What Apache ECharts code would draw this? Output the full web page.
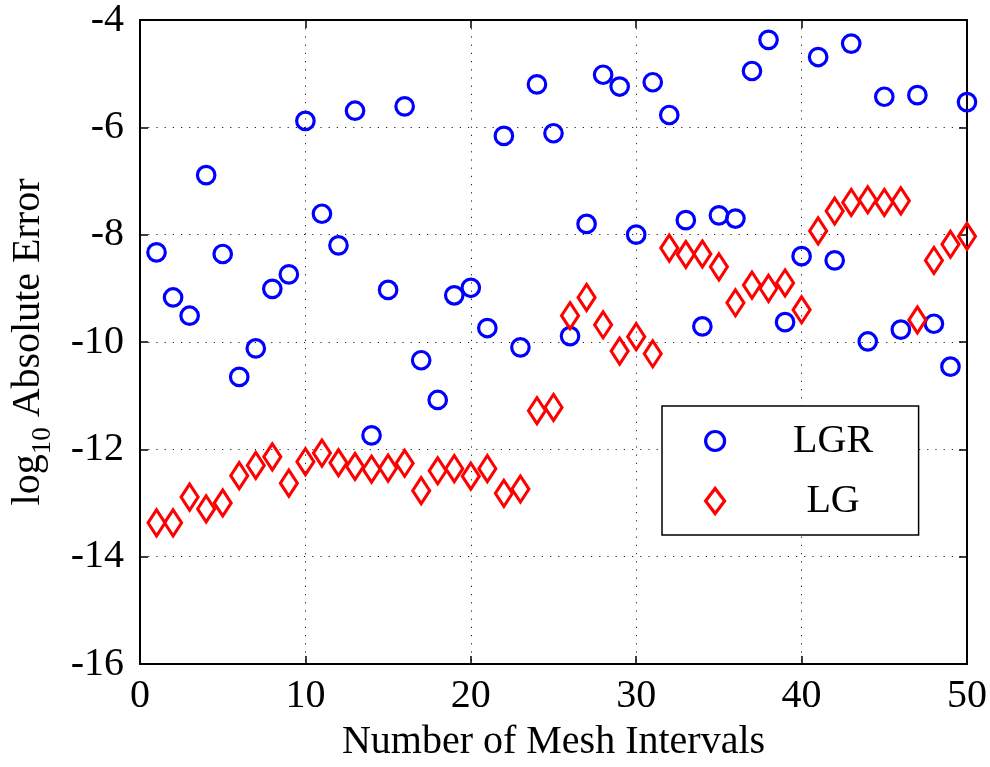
<!DOCTYPE html>
<html>
<head>
<meta charset="utf-8">
<script src="https://cdn.jsdelivr.net/npm/echarts@6/dist/echarts.min.js"></script>
<style>
  html, body { margin: 0; padding: 0; background: #fff; }
  #chart { width: 990px; height: 767px; }
</style>
</head>
<body>
<div id="chart"></div>
<script>
// Mesh interval counts on the horizontal axis
const meshIntervals = [1,2,3,4,5,6,7,8,9,10,11,12,13,14,15,16,17,18,19,20,21,22,23,24,25,
  26,27,28,29,30,31,32,33,34,35,36,37,38,39,40,41,42,43,44,45,46,47,48,49,50];

// log10 of the absolute error, LGR method
const errLGR = [-8.33,-9.17,-9.51,-6.89,-8.36,-10.65,-10.12,-9.01,-8.74,-5.88,
  -7.61,-8.20,-5.69,-11.74,-9.03,-5.61,-10.34,-11.08,-9.13,-8.99,
  -9.74,-6.16,-10.10,-5.20,-6.11,-9.89,-7.80,-5.02,-5.24,-8.00,
  -5.16,-5.77,-7.73,-9.71,-7.64,-7.70,-4.95,-4.37,-9.63,-8.40,
  -4.69,-8.48,-4.44,-9.99,-5.43,-9.77,-5.40,-9.66,-10.46,-5.53];

// log10 of the absolute error, LG method
const errLG = [-13.37,-13.37,-12.89,-13.11,-13.00,-12.49,-12.30,-12.14,-12.63,-12.23,
  -12.07,-12.25,-12.32,-12.37,-12.35,-12.26,-12.77,-12.40,-12.36,-12.50,
  -12.36,-12.82,-12.74,-11.28,-11.22,-9.51,-9.17,-9.68,-10.17,-9.90,
  -10.22,-8.25,-8.37,-8.36,-8.60,-9.27,-8.94,-9.00,-8.90,-9.40,
  -7.93,-7.56,-7.40,-7.35,-7.40,-7.37,-9.59,-8.48,-8.18,-8.03];

const xTicks = [0, 10, 20, 30, 40, 50];
const yTicks = [-16, -14, -12, -10, -8, -6, -4];

const FONT = 'Liberation Serif';
const pairs = (ys) => meshIntervals.map((x, i) => [x, ys[i]]);

const chart = echarts.init(document.getElementById('chart'), null, { renderer: 'canvas' });

const gridLine = { show: true, lineStyle: { color: '#222', width: 1, type: [1.2, 7] } };
const frameLine = { show: true, onZero: false, lineStyle: { color: '#000', width: 2 } };
const tick = { show: true, inside: true, length: 8, lineStyle: { color: '#000', width: 1.5 } };

chart.setOption({
  animation: false,
  backgroundColor: '#fff',
  grid: { left: 133, top: 20, right: 23, bottom: 98, containLabel: false },
  xAxis: [{
    type: 'value',
    min: xTicks[0], max: xTicks[xTicks.length - 1], interval: 10,
    axisLine: frameLine, axisTick: tick, splitLine: gridLine,
    axisLabel: { fontFamily: FONT, fontSize: 40, color: '#000', margin: 12 },
    name: 'Number of Mesh Intervals',
    nameLocation: 'middle', nameGap: 58,
    nameTextStyle: { fontFamily: FONT, fontSize: 40, color: '#000' }
  }, {
    type: 'value', position: 'top',
    min: xTicks[0], max: xTicks[xTicks.length - 1], interval: 10,
    axisLine: frameLine, axisTick: tick, splitLine: { show: false },
    axisLabel: { show: false }
  }],
  yAxis: [{
    type: 'value',
    min: yTicks[0], max: yTicks[yTicks.length - 1], interval: 2,
    axisLine: frameLine, axisTick: tick, splitLine: gridLine,
    axisLabel: { fontFamily: FONT, fontSize: 40, color: '#000', margin: 16 },
    name: '{m|log}{s|10}{m| Absolute Error}',
    nameLocation: 'middle', nameGap: 92, nameRotate: 90,
    nameTextStyle: {
      fontFamily: FONT, color: '#000',
      rich: {
        m: { fontFamily: FONT, fontSize: 40, color: '#000', lineHeight: 48, verticalAlign: 'bottom' },
        s: { fontFamily: FONT, fontSize: 27, color: '#000', lineHeight: 48, verticalAlign: 'bottom', padding: [0, 0, -8, 0] }
      }
    }
  }, {
    type: 'value', position: 'right',
    min: yTicks[0], max: yTicks[yTicks.length - 1], interval: 2,
    axisLine: frameLine, axisTick: tick, splitLine: { show: false },
    axisLabel: { show: false }
  }],
  legend: {
    orient: 'vertical',
    left: 662, top: 406,
    padding: [15, 38, 14, 42],
    itemGap: 20,
    itemWidth: 19, itemHeight: 25,
    backgroundColor: '#fff',
    borderColor: '#000', borderWidth: 1.5,
    selectedMode: false,
    itemStyle: { borderWidth: 3.2 },
    formatter: (name) => '{t|' + name + '}',
    textStyle: {
      fontFamily: FONT, fontSize: 40, color: '#000',
      rich: { t: { fontFamily: FONT, fontSize: 40, width: 95, align: 'center', lineHeight: 40, padding: [0, 0, 0, 56] } }
    },
    data: ['LGR', 'LG']
  },
  series: [{
    name: 'LGR',
    type: 'scatter',
    symbol: 'circle',
    symbolSize: 17.5,
    itemStyle: { color: 'transparent', borderColor: '#0000ff', borderWidth: 3.2, opacity: 1 },
    emphasis: { disabled: true },
    data: pairs(errLGR),
    z: 3
  }, {
    name: 'LG',
    type: 'scatter',
    symbol: 'diamond',
    symbolSize: [17, 26],
    itemStyle: { color: 'transparent', borderColor: '#ff0000', borderWidth: 3.2, opacity: 1 },
    emphasis: { disabled: true },
    data: pairs(errLG),
    z: 3
  }]
});
</script>
</body>
</html>
